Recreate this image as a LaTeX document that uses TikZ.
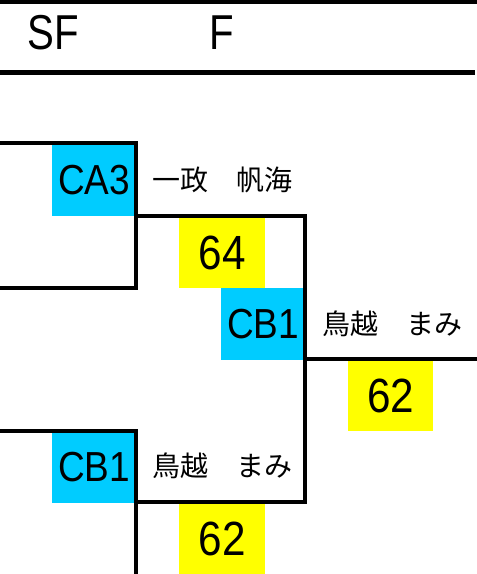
\documentclass[tikz,border=0pt]{standalone}
\usepackage{fontspec}
\setmainfont{Liberation Sans}
\newfontfamily\codefont[FakeStretch=0.88]{Liberation Sans}
\newfontfamily\scorefont[FakeStretch=0.88]{Liberation Sans}
\newfontfamily\headfont[FakeStretch=0.82]{Liberation Sans}
\newfontfamily\jpfont{Noto Sans CJK JP}
\definecolor{seedcyan}{RGB}{0,204,255}
\definecolor{scoreyellow}{RGB}{255,255,0}
\begin{document}
\begin{tikzpicture}[x=1pt,y=-1pt,
  codebox/.style={fill=seedcyan, inner sep=0pt, anchor=north west, font=\codefont\fontsize{42}{42}\selectfont},
  scorebox/.style={fill=scoreyellow, inner sep=0pt, anchor=north west, font=\scorefont\fontsize{48}{48}\selectfont},
  namelabel/.style={inner sep=0pt, anchor=west, font=\jpfont\fontsize{28}{28}\selectfont},
  headlabel/.style={inner sep=0pt, font=\headfont\fontsize{49}{49}\selectfont},
  bracket/.style={line width=3.3pt, line cap=rect, line join=miter},
  rule/.style={line width=#1}
]
\useasboundingbox (0,0) rectangle (477,574);

% header
\coordinate (r1a) at (0,1.75);
\coordinate (r1b) at (477,1.75);
\coordinate (r2a) at (0,72.5);
\coordinate (r2b) at (475,72.5);
\draw[rule=3.5pt] (r1a) -- (r1b);
\draw[rule=5.5pt] (r2a) -- (r2b);
\node[headlabel] (hsf) at (53,33) {SF};
\node[headlabel] (hf) at (222,33) {F};

% boxes
\node[codebox, minimum width=84pt, minimum height=73pt] (ca3) at (52,143) {CA3};
\node[codebox, minimum width=84pt, minimum height=72pt] (cb1m) at (221,288) {CB1};
\node[codebox, minimum width=84pt, minimum height=72pt] (cb1l) at (52,431) {CB1};
\node[scorebox, minimum width=86pt, minimum height=70pt] (s64) at (179,218) {64};
\node[scorebox, minimum width=85pt, minimum height=70pt] (s62r) at (348,361) {62};
\node[scorebox, minimum width=86pt, minimum height=70pt] (s62l) at (179,504) {62};

% names
\node[namelabel] (n1) at (152,180) {一政　帆海};
\node[namelabel] (n2) at (322,324) {鳥越　まみ};
\node[namelabel] (n3) at (152,466) {鳥越　まみ};

% bracket lines
\coordinate (a0) at (0,143);
\coordinate (a1) at (136,143);
\coordinate (a2) at (136,288);
\coordinate (a3) at (0,288);
\coordinate (b0) at (0,431);
\coordinate (b1) at (136,431);
\coordinate (b2) at (136,577);
\coordinate (m0) at (136,216);
\coordinate (m1) at (305,216);
\coordinate (m2) at (305,502);
\coordinate (m3) at (136,502);
\coordinate (f0) at (305,359);
\coordinate (f1) at (480,359);
\draw[bracket] (a0) -- (a1) -- (a2) -- (a3);
\draw[bracket] (b0) -- (b1) -- (b2);
\draw[bracket] (m0) -- (m1) -- (m2) -- (m3);
\draw[bracket] (f0) -- (f1);
\end{tikzpicture}
\end{document}
